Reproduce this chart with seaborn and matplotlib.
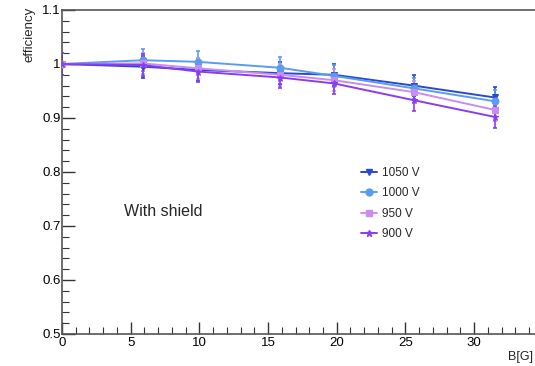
import numpy as np
import pandas as pd
import seaborn as sns
import matplotlib.pyplot as plt
from matplotlib.ticker import MultipleLocator, FuncFormatter
from matplotlib.lines import Line2D

# data
b_field = [0, 5.9, 9.9, 15.9, 19.8, 25.6, 31.5]
eff_1050 = [1.000, 0.995, 0.989, 0.983, 0.980, 0.960, 0.938]
eff_1000 = [1.000, 1.007, 1.004, 0.993, 0.978, 0.955, 0.931]
eff_950 = [1.000, 1.001, 0.992, 0.980, 0.970, 0.948, 0.915]
eff_900 = [1.000, 0.998, 0.986, 0.975, 0.964, 0.933, 0.902]
err = [0.02, 0.02, 0.02, 0.02, 0.02, 0.02, 0.02]

labels = ['1050 V', '1000 V', '950 V', '900 V']
series = [eff_1050, eff_1000, eff_950, eff_900]
colors = ['#2a48d0', '#5a9cf0', '#c98cf2', '#8a3cf0']
markers = ['v', 'o', 's', '*']

df = pd.concat([pd.DataFrame({'B': b_field, 'eff': s, 'hv': l})
                for s, l in zip(series, labels)])

sns.set_style('ticks')
plt.rcParams['font.family'] = ['Liberation Sans', 'DejaVu Sans']

fig = plt.figure(figsize=(5.35, 3.66), dpi=100)
# axes run past the right edge, as in the cropped reference
ax = fig.add_axes([62 / 535, 32 / 366, 522 / 535, 324 / 366])

for l, c, m, s in zip(labels, colors, markers, series):
    sub = df[df['hv'] == l]
    ax.errorbar(b_field, s, yerr=err, fmt='none', ecolor=c, elinewidth=1.2,
                capsize=1.5, capthick=1.2, zorder=2)
    sns.lineplot(data=sub, x='B', y='eff', color=c, marker=m, markersize=5,
                 markeredgecolor=c, linewidth=1.4, ax=ax, zorder=3)

ax.set_xlim(0, 38)
ax.set_ylim(0.5, 1.1)
ax.set_xlabel('')
ax.set_ylabel('')

ax.xaxis.set_major_locator(MultipleLocator(5))
ax.xaxis.set_minor_locator(MultipleLocator(1))
ax.xaxis.set_major_formatter(FuncFormatter(lambda v, p: '%g' % v if v <= 30 else ''))
ax.yaxis.set_major_locator(MultipleLocator(0.1))
ax.yaxis.set_minor_locator(MultipleLocator(0.02))
ax.yaxis.set_major_formatter(FuncFormatter(lambda v, p: '%g' % round(v, 2)))
ax.tick_params(which='both', direction='in', colors='#333333', labelsize=9.5,
               labelcolor='black', top=False, right=False)
ax.tick_params(which='major', length=9, width=1)
ax.tick_params(which='minor', length=5, width=0.8)
ax.tick_params(axis='x', pad=2)
ax.tick_params(axis='y', pad=1)
for sp in ax.spines.values():
    sp.set_color('#555555')
    sp.set_linewidth(1.2)

ax.text(124 / 535, (366 - 212) / 366, 'With shield', transform=fig.transFigure,
        fontsize=11.5, va='center', ha='left')

fig.text(30 / 535, 1 - 7 / 366, 'efficiency', rotation=90, ha='center',
         va='top', fontsize=9.5)
fig.text(508 / 535, 1 - 357 / 366, 'B[G]', ha='left', va='center', fontsize=9)

handles = [Line2D([], [], color=c, marker=m, markersize=5, linewidth=1.4)
           for c, m in zip(colors, markers)]
fig.legend(handles, labels, loc='upper left', bbox_to_anchor=(355 / 535, 1 - 161 / 366),
           frameon=False, fontsize=8.5, handlelength=1.4, handletextpad=0.4,
           labelspacing=0.72, borderpad=0)

fig.savefig('out.png', dpi=100)
